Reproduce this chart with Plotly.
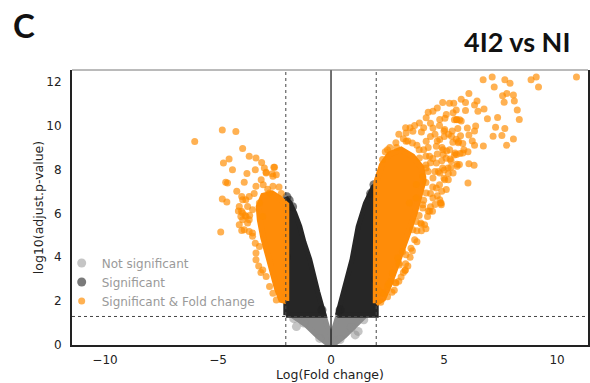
import plotly.graph_objects as go

# ---------------- data ----------------
# dense clouds, outlined as envelopes (log2 fold change, -log10 adj p)
gray_env_x = [-1.70, -0.30, 0.00, 0.30, 1.50, 1.10, 0.60, 0.15, -0.15, -0.60, -1.10]
gray_env_y = [1.32, 1.32, 0.30, 1.32, 1.32, 0.90, 0.40, 0.05, 0.05, 0.40, 0.90]

sig_left_env_x = [-2.00, -0.30, -0.58, -0.94, -1.20, -1.38, -1.60, -1.83, -2.00]
sig_left_env_y = [1.36, 1.36, 2.40, 3.90, 4.70, 5.40, 6.00, 6.50, 6.70]
sig_right_env_x = [0.28, 2.00, 2.00, 1.87, 1.52, 1.20, 0.93, 0.54]
sig_right_env_y = [1.36, 1.36, 7.30, 7.20, 6.45, 5.40, 3.90, 2.40]

fc_left_env_x = [-1.98, -2.20, -2.40, -2.60, -2.80, -3.00, -3.15, -3.20, -3.00, -2.60, -2.30, -1.98]
fc_left_env_y = [2.00, 2.05, 2.60, 3.30, 4.10, 4.90, 5.70, 6.30, 6.80, 6.90, 6.70, 6.40]
fc_right_env_x = [1.98, 2.30, 2.60, 2.90, 3.20, 3.45, 3.70, 3.95, 4.10, 4.00, 3.60, 3.10, 2.60, 2.25, 2.00]
fc_right_env_y = [1.90, 2.10, 2.80, 3.60, 4.40, 5.20, 6.00, 6.80, 7.50, 8.10, 8.60, 8.90, 8.70, 8.20, 7.40]

# individual points
ns_x = [-1.53, 1.07, 1.20, -1.65, 1.45, -1.20, 0.90, -0.50, 0.40]
ns_y = [0.84, 0.46, 0.62, 1.20, 1.15, 1.00, 0.80, 0.30, 0.25]

sig_x = [-1.95, -1.85, -1.70, 1.90, 1.95, 1.75, -0.40, 0.40, -1.97, 1.97]
sig_y = [6.75, 6.60, 6.30, 7.30, 7.10, 6.90, 1.60, 1.60, 4.00, 3.00]

fc_x = [
    6.73, 7.13, 7.69, 7.92, 7.22, 8.85, 9.08, 9.18, 10.86, 6.10, 7.59, 7.78, 8.07, 7.66, 8.11,
    6.46, 6.35, 6.77, 6.50, 8.24, 8.33, 7.37, 6.92, 7.28, 7.69, 7.17, 7.56, 8.07, 7.77, 6.74,
    5.76, 5.95, 5.54, 5.95, 5.24, 5.43, 4.94, 5.57, 5.46, 5.69, 5.76, 5.04, 6.03, 6.40, 6.35,
    5.61, 5.36, 5.00, 5.73, 6.10, 5.01, 5.54, 5.39, 5.64, 5.83, 6.25, 6.35, 6.06, 5.71, 5.46,
    5.12, 5.09, 5.31, 5.57, 5.58, 6.10, 6.33, 5.01, 5.19, 4.91, 6.06, 5.88, 5.68, 5.27, 5.49,
    5.83, 4.87, 5.19, 4.94,
    4.51, 5.40, 4.21, 3.91, 4.81, 5.55, 5.03, 4.51, 3.62, 5.33, 5.63, 4.81, 4.21, 3.32, 4.66,
    5.25, 4.96, 5.55, 4.36, 3.91, 4.66, 5.18, 4.21, 4.81, 5.40, 4.51, 5.03, 4.06, 3.77, 4.66,
    5.10, 4.21, 4.51, 3.77, 4.06, 4.81, 3.47,
    4.06, 4.36, 4.88, 3.77, 4.14, 3.62, 3.54, 3.32, 3.02, 3.29, 2.72, 2.87, 2.65, 2.28, 2.50,
    3.17, 2.95,
    4.84, 4.49, 4.27, 3.97, 3.80, 3.27, 3.01, 2.86, 2.56, 2.34, 2.10,
    3.00, 3.50, 4.00, 4.40, 4.60, 4.30, 4.70, 4.90, 4.40, 4.80, 4.50, 4.20, 4.40, 4.10, 3.90,
    4.00, 3.70, 3.50, 3.30, 3.10, 2.80, 2.50, 2.20, 3.90, 4.20, 3.60, 3.20, 2.60, 2.40, 2.87,
    3.32, 2.28,
    4.30, 4.60, 4.20, 4.50, 4.10, 3.80, 3.40, 2.90, 2.50, 4.40, 4.70, 4.30, 4.60, 4.00, 4.20,
    3.80, 3.60, 3.40, 3.20, 3.00, 2.70, 4.90, 5.00, 4.75, 5.30, 4.95, 4.70, 4.40, 4.10, 3.70,
    3.30, 4.80, 5.20, 5.10, 4.70, 4.30,
    -4.81, -4.21, -6.03, -3.91, -3.62, -3.32, -4.51, -4.76, -3.07, -4.36, -3.35, -2.95, -2.87,
    -2.53, -3.72, -2.60, -2.42, -4.66, -3.84, -4.17, -4.81, -4.61, -3.96, -3.99, -3.91, -3.80,
    -3.60, -4.88, -3.95, -4.10, -3.69, -3.62, -3.47, -3.95, -3.77, -3.35, -3.32, -3.20, -3.10,
    -4.58,
    -3.91, -3.76, -3.62, -4.06, -3.84, -3.47, -3.17, -3.32, -3.02, -2.87, -2.72, -2.57, -2.42,
    -3.47, -3.17, -3.02, -2.72, -2.57, -2.57, -2.87, -3.09, -3.32, -3.62, -3.91, -4.06, -3.69,
    -2.50, -3.00, -2.80, -3.40, -2.30, -2.20,
]
fc_y = [
    12.09, 12.21, 12.09, 11.93, 11.75, 12.09, 12.21, 11.75, 12.21, 11.46, 11.36, 11.46, 11.39, 11.06, 11.12,
    11.12, 10.93, 10.75, 10.65, 10.71, 10.27, 10.37, 10.31, 9.92, 9.86, 9.51, 9.54, 9.39, 9.10, 9.07,
    11.20, 11.05, 10.71, 10.68, 11.02, 11.02, 11.05, 10.26, 10.26, 10.26, 10.21, 10.33, 9.89, 9.98, 9.75,
    9.86, 9.75, 9.75, 9.53, 9.57, 9.50, 9.38, 9.24, 9.27, 9.18, 9.30, 9.10, 8.81, 8.72, 8.66,
    8.84, 8.51, 8.39, 8.23, 8.14, 8.26, 8.19, 7.97, 7.81, 9.00, 7.38, 8.90, 8.22, 8.48, 8.75,
    8.75, 6.47, 7.53, 8.07,
    10.65, 10.58, 10.35, 10.12, 10.28, 10.28, 9.82, 9.89, 9.74, 9.51, 9.21, 9.36, 9.28, 9.28, 9.06,
    8.90, 8.68, 8.68, 8.60, 8.52, 8.29, 8.07, 8.07, 7.84, 7.84, 7.61, 7.53, 7.68, 7.31, 7.15,
    7.08, 6.93, 6.70, 6.70, 6.39, 6.62, 6.47,
    6.24, 6.09, 6.39, 5.63, 5.48, 5.25, 4.41, 4.11, 3.65, 3.42, 3.27, 2.82, 2.89, 2.36, 2.66,
    4.26, 3.96,
    6.47, 6.09, 5.86, 5.56, 5.20, 3.39, 3.73, 2.85, 2.79, 2.36, 2.50,
    9.60, 9.90, 9.70, 10.10, 9.60, 9.00, 8.70, 8.40, 8.30, 7.30, 7.20, 7.40, 6.30, 6.60, 5.90,
    5.20, 4.80, 4.00, 3.70, 3.10, 2.50, 2.20, 1.95, 8.90, 8.60, 9.20, 9.40, 9.00, 8.80, 9.21,
    9.66, 8.45,
    7.90, 7.90, 8.20, 8.50, 8.90, 9.10, 9.30, 9.00, 8.90, 6.90, 6.80, 6.10, 6.40, 5.50, 5.30,
    4.70, 4.30, 3.60, 3.30, 2.90, 2.40, 7.00, 7.60, 7.90, 8.10, 8.90, 9.30, 9.50, 9.90, 10.00,
    9.90, 10.00, 9.60, 10.50, 10.80, 10.60,
    9.80, 9.73, 9.27, 8.95, 8.60, 8.52, 8.48, 8.29, 8.32, 7.99, 7.99, 8.07, 7.87,
    8.10, 7.81, 7.80, 7.76, 7.42, 7.42, 7.00, 6.65, 6.51, 6.09, 5.86, 5.71, 5.90,
    5.90, 5.15, 5.22, 6.10, 5.56, 5.17, 5.10, 6.77, 6.62, 4.64, 4.19, 3.60, 3.30,
    7.38,
    6.01, 5.86, 5.71, 5.48, 5.25, 4.95, 4.49, 3.88, 3.42, 3.12, 2.66, 2.36, 2.05,
    6.16, 6.47, 5.86, 6.93, 7.23, 7.69, 7.84, 7.53, 7.23, 6.77, 6.62, 6.31, 6.31,
    8.10, 7.30, 7.10, 6.90, 7.20, 6.90,
]

x_ticks = [-10, -5, 0, 5, 10]
y_ticks = [0, 2, 4, 6, 8, 10, 12]
fc_cutoff = 2
p_cutoff = 1.3

# ---------------- figure ----------------
GRAY = "#8c8c8c"
DARK = "#262626"
ORANGE = "rgb(255,140,8)"

fig = go.Figure()


def envelope(xs, ys, color, w):
    fig.add_trace(go.Scatter(
        x=xs + xs[:1], y=ys + ys[:1], mode="lines", fill="toself",
        fillcolor=color, line=dict(color=color, width=w),
        hoverinfo="skip", showlegend=False))


envelope(gray_env_x, gray_env_y, GRAY, 5)
fig.add_trace(go.Scatter(x=ns_x, y=ns_y, mode="markers", name="Not significant",
                         marker=dict(color=GRAY, size=9, opacity=0.5)))
envelope(sig_left_env_x, sig_left_env_y, DARK, 5)
envelope(sig_right_env_x, sig_right_env_y, DARK, 5)
fig.add_trace(go.Scatter(x=sig_x, y=sig_y, mode="markers", name="Significant",
                         marker=dict(color="#222222", size=9, opacity=0.6)))
envelope(fc_left_env_x, fc_left_env_y, ORANGE, 6)
envelope(fc_right_env_x, fc_right_env_y, ORANGE, 6)
fig.add_trace(go.Scatter(x=fc_x, y=fc_y, mode="markers", name="Significant & Fold change",
                         marker=dict(color="#ff8c00", size=7, opacity=0.68)))

shapes = [
    dict(type="line", xref="x", yref="paper", x0=-fc_cutoff, x1=-fc_cutoff, y0=0, y1=1,
         line=dict(color="#444", width=1, dash="dot"), layer="above"),
    dict(type="line", xref="x", yref="paper", x0=fc_cutoff, x1=fc_cutoff, y0=0, y1=1,
         line=dict(color="#444", width=1, dash="dot"), layer="above"),
    dict(type="line", xref="x", yref="paper", x0=0, x1=0, y0=0, y1=1,
         line=dict(color="#111", width=1.2), layer="above"),
    dict(type="line", xref="paper", yref="y", x0=0, x1=1, y0=p_cutoff, y1=p_cutoff,
         line=dict(color="#444", width=1, dash="dot"), layer="above"),
    dict(type="line", xref="paper", yref="paper", x0=0, x1=1, y0=1, y1=1,
         line=dict(color="#777", width=1), layer="above"),
]

fig.update_layout(
    width=590, height=383,
    margin=dict(l=72, r=2, t=70, b=38, autoexpand=False),
    paper_bgcolor="white", plot_bgcolor="white",
    font=dict(family="DejaVu Sans", size=12, color="#222"),
    shapes=shapes,
    showlegend=True,
    legend=dict(x=-0.02, y=0.229, xanchor="left", yanchor="middle",
                bgcolor="rgba(0,0,0,0)", font=dict(family="DejaVu Sans", size=12, color="#9a9a9a"),
                itemwidth=30, traceorder="normal"),
    annotations=[
        dict(text="<b>4I2 vs NI</b>", xref="paper", yref="paper", x=0.969, y=1.102,
             xanchor="right", yanchor="middle", showarrow=False,
             font=dict(family="Lato", size=27, color="#111")),
        dict(text="<b>C</b>", xref="paper", yref="paper", x=-0.093, y=1.165,
             xanchor="center", yanchor="middle", showarrow=False,
             font=dict(family="Lato", size=33, color="#111")),
    ],
)

fig.update_xaxes(range=[-11.46, 11.37], tickvals=x_ticks, showgrid=False, zeroline=False,
                 showline=True, linewidth=2, linecolor="#222", mirror=False, ticks="",
                 ticklabelstandoff=3, automargin=False,
                 title=dict(text="Log(Fold change)", standoff=0, font=dict(size=12.5)))
fig.update_yaxes(range=[0, 12.53], tickvals=y_ticks, showgrid=False, zeroline=False,
                 showline=True, linewidth=2, linecolor="#222", mirror=True, ticks="",
                 ticklabelstandoff=6, automargin=False,
                 title=dict(text="log10(adjust.p-value)", standoff=0, font=dict(size=12.5)))

# remove the page's default 8px body margin so the figure fills the window exactly
fig.write_html("out.html",
               config={"displayModeBar": False},
               post_script="document.body.style.margin='0';document.body.style.overflow='hidden';")
